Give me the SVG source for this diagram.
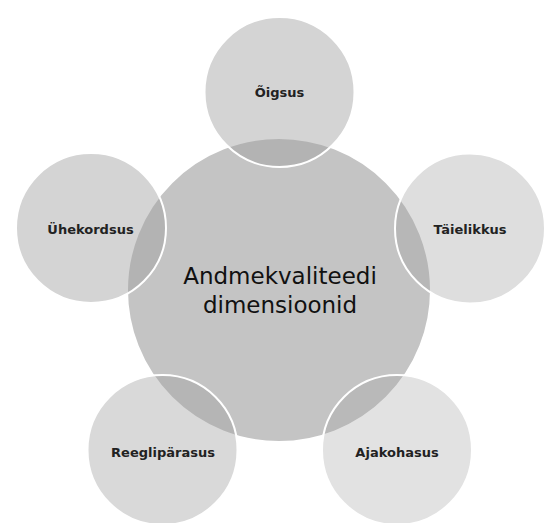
<svg xmlns="http://www.w3.org/2000/svg" width="547" height="523" viewBox="0 0 547 523">
  <style>
    .outer { fill: #a0a0a0; stroke: #ffffff; stroke-width: 2; }
    .center { fill: #c4c4c4; stroke: #ffffff; stroke-width: 2; }
    .lbl { font-family: "DejaVu Sans", "Liberation Sans", sans-serif; font-size: 13px; font-weight: bold; fill: #222222; text-anchor: middle; }
    .main { font-family: "DejaVu Sans", "Liberation Sans", sans-serif; font-size: 23px; fill: #111111; text-anchor: middle; }
  </style>
  <rect width="547" height="523" fill="#ffffff"/>
  <g id="connectors"></g>
  <g id="node-center">
    <circle class="center" cx="279" cy="290" r="152"/>
  </g>
  <g id="node-oigsus">
    <circle class="outer" cx="279.5" cy="92" r="75" fill-opacity="0.45"/>
    <text class="lbl" x="279.5" y="97">Õigsus</text>
  </g>
  <g id="node-taielikkus">
    <circle class="outer" cx="470" cy="228.5" r="75" fill-opacity="0.35"/>
    <text class="lbl" x="470" y="234">Täielikkus</text>
  </g>
  <g id="node-ajakohasus">
    <circle class="outer" cx="397" cy="450" r="75" fill-opacity="0.3"/>
    <text class="lbl" x="397" y="456.5">Ajakohasus</text>
  </g>
  <g id="node-reegliparasus">
    <circle class="outer" cx="162.5" cy="450" r="75" fill-opacity="0.4"/>
    <text class="lbl" x="163" y="456.5">Reeglipärasus</text>
  </g>
  <g id="node-uhekordsus">
    <circle class="outer" cx="91" cy="228" r="75" fill-opacity="0.45"/>
    <text class="lbl" x="90.5" y="234">Ühekordsus</text>
  </g>
  <g id="node-center-label">
    <text class="main" x="280" y="284">Andmekvaliteedi</text>
    <text class="main" x="280" y="313">dimensioonid</text>
  </g>
</svg>
